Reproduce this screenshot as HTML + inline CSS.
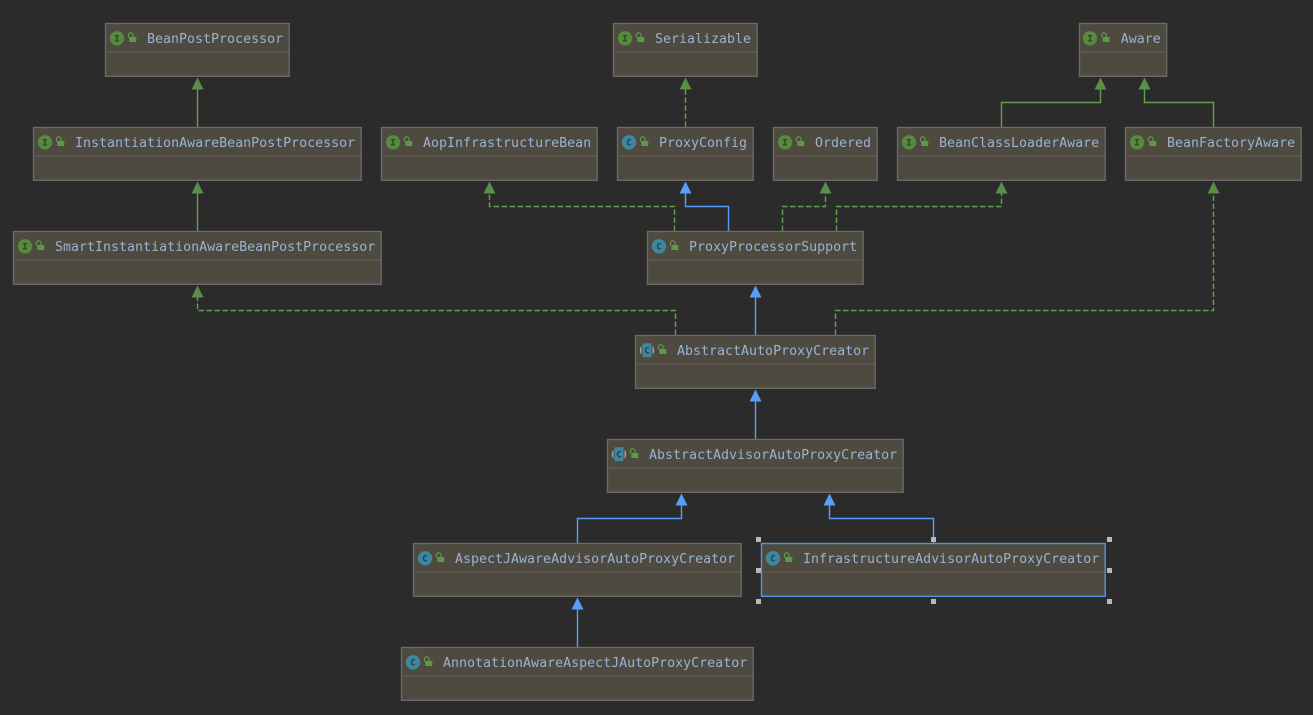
<!DOCTYPE html>
<html>
<head>
<meta charset="utf-8">
<style>
html,body{margin:0;padding:0;background:#2b2b2b;width:1313px;height:715px;overflow:hidden}
svg{display:block}
.box{fill:#4e4a3f;stroke:#6c6c6c;stroke-width:1.3}
.sep{stroke:#5d5c58;stroke-width:1.2}
.t{font-family:"DejaVu Sans Mono","Liberation Mono",monospace;font-size:13.3px;fill:#9ab2d2}
.il{font-family:"DejaVu Sans Mono","Liberation Mono",monospace;font-size:9px;font-weight:bold;fill:#2f3a2c;text-anchor:middle}
.cl{font-family:"DejaVu Sans Mono","Liberation Mono",monospace;font-size:9px;font-weight:bold;fill:#253b45;text-anchor:middle}
.ci{fill:#568a3c}
.cc{fill:#3f87a1}
.lk{fill:#5c9a44}
.sh{fill:none;stroke:#5c9a44;stroke-width:1.2}
.g{fill:none;stroke:#62a050;stroke-width:1.4}
.gd{fill:none;stroke:#62a050;stroke-width:1.4;stroke-dasharray:5.500 2.500}
.b{fill:none;stroke:#589df6;stroke-width:1.4}
.ag{fill:#5a8f48}
.ab{fill:#589df6}
.h{fill:#b9b9b9}
</style>
</head>
<body>
<svg width="1313" height="715" viewBox="0 0 1313 715" xmlns="http://www.w3.org/2000/svg">
<rect width="1313" height="715" fill="#2b2b2b"/>

<!-- connectors -->
<path class="g" d="M197.5 127V89"/>
<path class="g" d="M197.5 231V193"/>
<path class="gd" d="M685.5 127V89"/>
<path class="g" d="M1001.5 127V102.500H1100.500V89"/>
<path class="g" d="M1213.5 127V102.500H1144.500V89"/>
<path class="gd" d="M674.500 231V206.500H489.500V193"/>
<path class="b" d="M728.500 231V206.500H685.500V193"/>
<path class="gd" d="M782.500 231V206.500H825.500V193"/>
<path class="gd" d="M836.500 231V206.500H1001.500V193"/>
<path class="gd" d="M835.500 335V310.500H1213.500V193"/>
<path class="gd" d="M675.500 335V310.500H197.500V297"/>
<path class="b" d="M755.500 335V297"/>
<path class="b" d="M755.500 439V401"/>
<path class="b" d="M577.500 543V518.500H681.500V505"/>
<path class="b" d="M933.500 543V518.500H829.500V505"/>
<path class="b" d="M577.500 647V609"/>

<!-- arrowheads -->
<polygon class="ag" points="197.500,77.500 203.500,89.500 191.500,89.500"/>
<polygon class="ag" points="197.500,181.500 203.500,193.500 191.500,193.500"/>
<polygon class="ag" points="197.500,285.500 203.500,297.500 191.500,297.500"/>
<polygon class="ag" points="685.500,77.500 691.500,89.500 679.500,89.500"/>
<polygon class="ag" points="1100.500,77.500 1106.500,89.500 1094.500,89.500"/>
<polygon class="ag" points="1144.500,77.500 1150.500,89.500 1138.500,89.500"/>
<polygon class="ag" points="489.500,181.500 495.500,193.500 483.500,193.500"/>
<polygon class="ab" points="685.500,181.500 691.500,193.500 679.500,193.500"/>
<polygon class="ag" points="825.500,181.500 831.500,193.500 819.500,193.500"/>
<polygon class="ag" points="1001.500,181.500 1007.500,193.500 995.500,193.500"/>
<polygon class="ag" points="1213.500,181.500 1219.500,193.500 1207.500,193.500"/>
<polygon class="ab" points="755.500,285.500 761.500,297.500 749.500,297.500"/>
<polygon class="ab" points="755.500,389.500 761.500,401.500 749.500,401.500"/>
<polygon class="ab" points="681.500,493.500 687.500,505.500 675.500,505.500"/>
<polygon class="ab" points="829.500,493.500 835.500,505.500 823.500,505.500"/>
<polygon class="ab" points="577.500,597.500 583.500,609.500 571.500,609.500"/>

<!-- BeanPostProcessor -->
<g transform="translate(105.500 23.500)"><rect class="box" width="183.700" height="52.800"/><path class="sep" d="M1 28.500H183"/><circle class="ci" cx="11.500" cy="14.800" r="7.200"/><text class="il" x="11.500" y="18">I</text><rect class="lk" x="23.800" y="13.500" width="7" height="5"/><path class="sh" d="M23 14V11.500a2 2 0 0 1 4.500 0V13.500"/><text class="t" x="41.500" y="19.500">BeanPostProcessor</text></g>
<!-- Serializable -->
<g transform="translate(613.500 23.500)"><rect class="box" width="143.700" height="52.800"/><path class="sep" d="M1 28.500H143"/><circle class="ci" cx="11.500" cy="14.800" r="7.200"/><text class="il" x="11.500" y="18">I</text><rect class="lk" x="23.800" y="13.500" width="7" height="5"/><path class="sh" d="M23 14V11.500a2 2 0 0 1 4.500 0V13.500"/><text class="t" x="41.500" y="19.500">Serializable</text></g>
<!-- Aware -->
<g transform="translate(1079.500 23.500)"><rect class="box" width="87.200" height="52.800"/><path class="sep" d="M1 28.500H87"/><circle class="ci" cx="10.500" cy="14.800" r="7.200"/><text class="il" x="10.500" y="18">I</text><rect class="lk" x="23.200" y="13.500" width="7" height="5"/><path class="sh" d="M22.300 14V11.500a2 2 0 0 1 4.500 0V13.500"/><text class="t" x="41.200" y="19.500">Aware</text></g>
<!-- InstantiationAwareBeanPostProcessor -->
<g transform="translate(33.500 127.500)"><rect class="box" width="327.700" height="52.800"/><path class="sep" d="M1 28.500H327"/><circle class="ci" cx="11.500" cy="14.800" r="7.200"/><text class="il" x="11.500" y="18">I</text><rect class="lk" x="23.800" y="13.500" width="7" height="5"/><path class="sh" d="M23 14V11.500a2 2 0 0 1 4.500 0V13.500"/><text class="t" x="41.500" y="19.500">InstantiationAwareBeanPostProcessor</text></g>
<!-- AopInfrastructureBean -->
<g transform="translate(381.500 127.500)"><rect class="box" width="215.700" height="52.800"/><path class="sep" d="M1 28.500H215"/><circle class="ci" cx="11.500" cy="14.800" r="7.200"/><text class="il" x="11.500" y="18">I</text><rect class="lk" x="23.800" y="13.500" width="7" height="5"/><path class="sh" d="M23 14V11.500a2 2 0 0 1 4.500 0V13.500"/><text class="t" x="41.500" y="19.500">AopInfrastructureBean</text></g>
<!-- ProxyConfig -->
<g transform="translate(617.500 127.500)"><rect class="box" width="135.700" height="52.800"/><path class="sep" d="M1 28.500H135"/><circle class="cc" cx="11.500" cy="14.800" r="7.200"/><text class="cl" x="11.500" y="18">C</text><rect class="lk" x="23.800" y="13.500" width="7" height="5"/><path class="sh" d="M23 14V11.500a2 2 0 0 1 4.500 0V13.500"/><text class="t" x="41.500" y="19.500">ProxyConfig</text></g>
<!-- Ordered -->
<g transform="translate(773.500 127.500)"><rect class="box" width="103.700" height="52.800"/><path class="sep" d="M1 28.500H103"/><circle class="ci" cx="11.500" cy="14.800" r="7.200"/><text class="il" x="11.500" y="18">I</text><rect class="lk" x="23.800" y="13.500" width="7" height="5"/><path class="sh" d="M23 14V11.500a2 2 0 0 1 4.500 0V13.500"/><text class="t" x="41.500" y="19.500">Ordered</text></g>
<!-- BeanClassLoaderAware -->
<g transform="translate(897.500 127.500)"><rect class="box" width="207.700" height="52.800"/><path class="sep" d="M1 28.500H207"/><circle class="ci" cx="11.500" cy="14.800" r="7.200"/><text class="il" x="11.500" y="18">I</text><rect class="lk" x="23.800" y="13.500" width="7" height="5"/><path class="sh" d="M23 14V11.500a2 2 0 0 1 4.500 0V13.500"/><text class="t" x="41.500" y="19.500">BeanClassLoaderAware</text></g>
<!-- BeanFactoryAware -->
<g transform="translate(1125.500 127.500)"><rect class="box" width="175.700" height="52.800"/><path class="sep" d="M1 28.500H175"/><circle class="ci" cx="11.500" cy="14.800" r="7.200"/><text class="il" x="11.500" y="18">I</text><rect class="lk" x="23.800" y="13.500" width="7" height="5"/><path class="sh" d="M23 14V11.500a2 2 0 0 1 4.500 0V13.500"/><text class="t" x="41.500" y="19.500">BeanFactoryAware</text></g>
<!-- SmartInstantiationAwareBeanPostProcessor -->
<g transform="translate(13.500 231.500)"><rect class="box" width="367.700" height="52.800"/><path class="sep" d="M1 28.500H367"/><circle class="ci" cx="11.500" cy="14.800" r="7.200"/><text class="il" x="11.500" y="18">I</text><rect class="lk" x="23.800" y="13.500" width="7" height="5"/><path class="sh" d="M23 14V11.500a2 2 0 0 1 4.500 0V13.500"/><text class="t" x="41.500" y="19.500">SmartInstantiationAwareBeanPostProcessor</text></g>
<!-- ProxyProcessorSupport -->
<g transform="translate(647.500 231.500)"><rect class="box" width="215.700" height="52.800"/><path class="sep" d="M1 28.500H215"/><circle class="cc" cx="11.500" cy="14.800" r="7.200"/><text class="cl" x="11.500" y="18">C</text><rect class="lk" x="23.800" y="13.500" width="7" height="5"/><path class="sh" d="M23 14V11.500a2 2 0 0 1 4.500 0V13.500"/><text class="t" x="41.500" y="19.500">ProxyProcessorSupport</text></g>
<!-- AbstractAutoProxyCreator -->
<g transform="translate(635.500 335.500)"><rect class="box" width="239.700" height="52.800"/><path class="sep" d="M1 28.500H239"/><circle cx="11.500" cy="14.800" r="7.200" fill="#9aa5a6"/><rect x="6" y="7" width="11" height="16" fill="#4e4a3f"/><rect class="cc" x="7" y="7.800" width="9" height="14" rx="1"/><text class="cl" x="11.500" y="18">C</text><rect class="lk" x="23.800" y="13.500" width="7" height="5"/><path class="sh" d="M23 14V11.500a2 2 0 0 1 4.500 0V13.500"/><text class="t" x="41.500" y="19.500">AbstractAutoProxyCreator</text></g>
<!-- AbstractAdvisorAutoProxyCreator -->
<g transform="translate(607.500 439.500)"><rect class="box" width="295.700" height="52.800"/><path class="sep" d="M1 28.500H295"/><circle cx="11.500" cy="14.800" r="7.200" fill="#9aa5a6"/><rect x="6" y="7" width="11" height="16" fill="#4e4a3f"/><rect class="cc" x="7" y="7.800" width="9" height="14" rx="1"/><text class="cl" x="11.500" y="18">C</text><rect class="lk" x="23.800" y="13.500" width="7" height="5"/><path class="sh" d="M23 14V11.500a2 2 0 0 1 4.500 0V13.500"/><text class="t" x="41.500" y="19.500">AbstractAdvisorAutoProxyCreator</text></g>
<!-- AspectJAwareAdvisorAutoProxyCreator -->
<g transform="translate(413.500 543.500)"><rect class="box" width="327.700" height="52.800"/><path class="sep" d="M1 28.500H327"/><circle class="cc" cx="11.500" cy="14.800" r="7.200"/><text class="cl" x="11.500" y="18">C</text><rect class="lk" x="23.800" y="13.500" width="7" height="5"/><path class="sh" d="M23 14V11.500a2 2 0 0 1 4.500 0V13.500"/><text class="t" x="41.500" y="19.500">AspectJAwareAdvisorAutoProxyCreator</text></g>
<!-- InfrastructureAdvisorAutoProxyCreator -->
<g transform="translate(761.500 543.500)"><rect class="box" width="343.700" height="52.800" style="stroke:#4f94e6;stroke-width:1.4"/><path class="sep" d="M1 28.500H343"/><circle class="cc" cx="11.500" cy="14.800" r="7.200"/><text class="cl" x="11.500" y="18">C</text><rect class="lk" x="23.800" y="13.500" width="7" height="5"/><path class="sh" d="M23 14V11.500a2 2 0 0 1 4.500 0V13.500"/><text class="t" x="41.500" y="19.500">InfrastructureAdvisorAutoProxyCreator</text></g>
<!-- AnnotationAwareAspectJAutoProxyCreator -->
<g transform="translate(401.500 647.500)"><rect class="box" width="351.700" height="52.800"/><path class="sep" d="M1 28.500H351"/><circle class="cc" cx="11.500" cy="14.800" r="7.200"/><text class="cl" x="11.500" y="18">C</text><rect class="lk" x="23.800" y="13.500" width="7" height="5"/><path class="sh" d="M23 14V11.500a2 2 0 0 1 4.500 0V13.500"/><text class="t" x="41.500" y="19.500">AnnotationAwareAspectJAutoProxyCreator</text></g>

<!-- selection handles -->
<rect class="h" x="756" y="537" width="5" height="5"/>
<rect class="h" x="931" y="537" width="5" height="5"/>
<rect class="h" x="1107" y="537" width="5" height="5"/>
<rect class="h" x="756" y="568" width="5" height="5"/>
<rect class="h" x="1107" y="568" width="5" height="5"/>
<rect class="h" x="756" y="599" width="5" height="5"/>
<rect class="h" x="931" y="599" width="5" height="5"/>
<rect class="h" x="1107" y="599" width="5" height="5"/>
</svg>
</body>
</html>
